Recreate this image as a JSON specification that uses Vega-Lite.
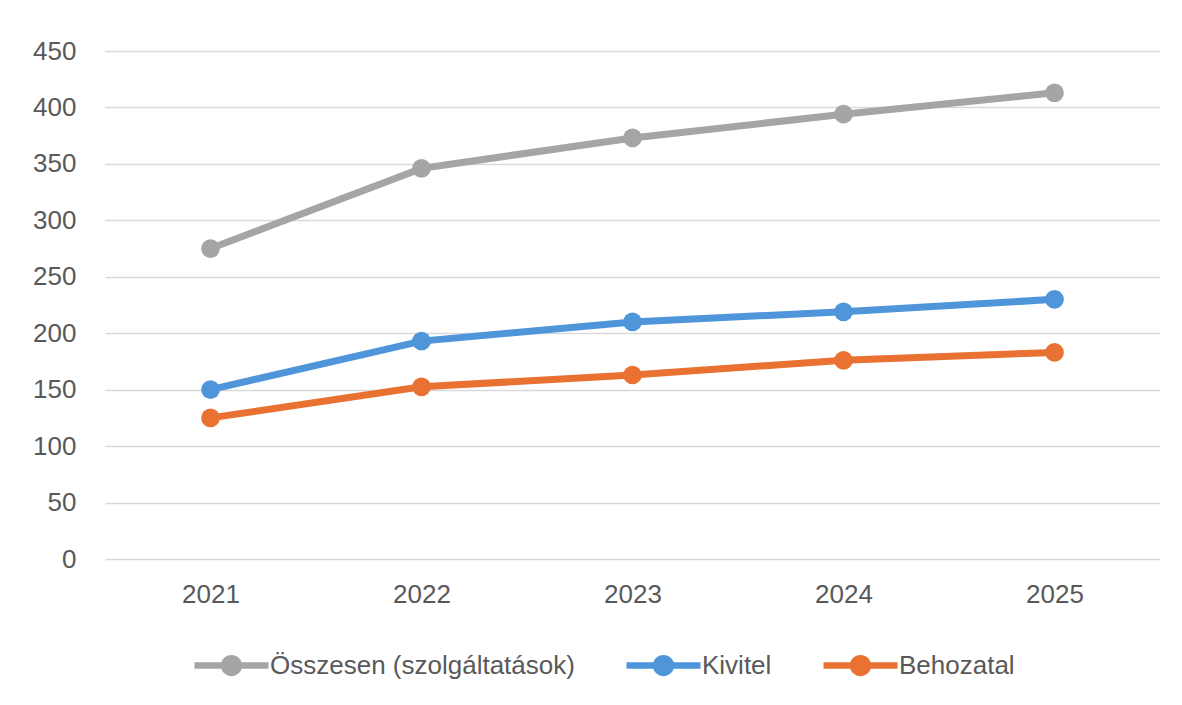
{
  "$schema": "https://vega.github.io/schema/vega-lite/v6.json",
  "width": 1055,
  "height": 508,
  "autosize": {"type": "none"},
  "padding": {"left": 105, "top": 51, "right": 22, "bottom": 146},
  "background": "white",
  "config": {
    "view": {"stroke": null},
    "font": "Liberation Sans",
    "axis": {"labelFont": "Liberation Sans", "labelColor": "#595959", "labelFontSize": 26, "domain": false, "ticks": false}
  },
  "data": {
    "values": [
      {"year": "2021", "series": "Összesen (szolgáltatások)", "value": 275},
      {"year": "2022", "series": "Összesen (szolgáltatások)", "value": 346},
      {"year": "2023", "series": "Összesen (szolgáltatások)", "value": 373},
      {"year": "2024", "series": "Összesen (szolgáltatások)", "value": 394},
      {"year": "2025", "series": "Összesen (szolgáltatások)", "value": 413},
      {"year": "2021", "series": "Kivitel", "value": 150},
      {"year": "2022", "series": "Kivitel", "value": 193},
      {"year": "2023", "series": "Kivitel", "value": 210},
      {"year": "2024", "series": "Kivitel", "value": 219},
      {"year": "2025", "series": "Kivitel", "value": 230},
      {"year": "2021", "series": "Behozatal", "value": 125},
      {"year": "2022", "series": "Behozatal", "value": 152.5},
      {"year": "2023", "series": "Behozatal", "value": 163},
      {"year": "2024", "series": "Behozatal", "value": 176},
      {"year": "2025", "series": "Behozatal", "value": 183}
    ]
  },
  "encoding": {
    "x": {
      "field": "year", "type": "ordinal", "title": null,
      "scale": {"paddingInner": 0, "paddingOuter": 0},
      "axis": {"labelAngle": 0, "labelPadding": 22, "grid": false}
    },
    "y": {
      "field": "value", "type": "quantitative", "title": null,
      "scale": {"domain": [0, 450], "nice": false},
      "axis": {"values": [0, 50, 100, 150, 200, 250, 300, 350, 400, 450], "labelPadding": 29, "gridColor": "#D9D9D9", "gridWidth": 1.5}
    },
    "color": {
      "field": "series", "type": "nominal", "title": null,
      "scale": {"domain": ["Összesen (szolgáltatások)", "Kivitel", "Behozatal"], "range": ["#A5A5A5", "#4E95D9", "#E97132"]},
      "legend": {
        "orient": "none", "direction": "horizontal", "legendX": 86, "legendY": 574,
        "symbolType": "M-1,0L1,0M-0.2,0A0.2,0.2 0 1,1 0.2,0A0.2,0.2 0 1,1 -0.2,0Z",
        "symbolSize": 5476, "symbolStrokeWidth": 6.5,
        "labelFont": "Liberation Sans", "labelFontSize": 26, "labelColor": "#595959", "labelOffset": -2, "labelLimit": 0,
        "columnPadding": 38,
        "encode": {"symbols": {"update": {"fill": {"scale": "color", "field": "value"}, "fillOpacity": {"value": 1}}}}
      }
    }
  },
  "mark": {"type": "line", "strokeWidth": 7, "point": {"filled": true, "size": 350, "opacity": 1}}
}
